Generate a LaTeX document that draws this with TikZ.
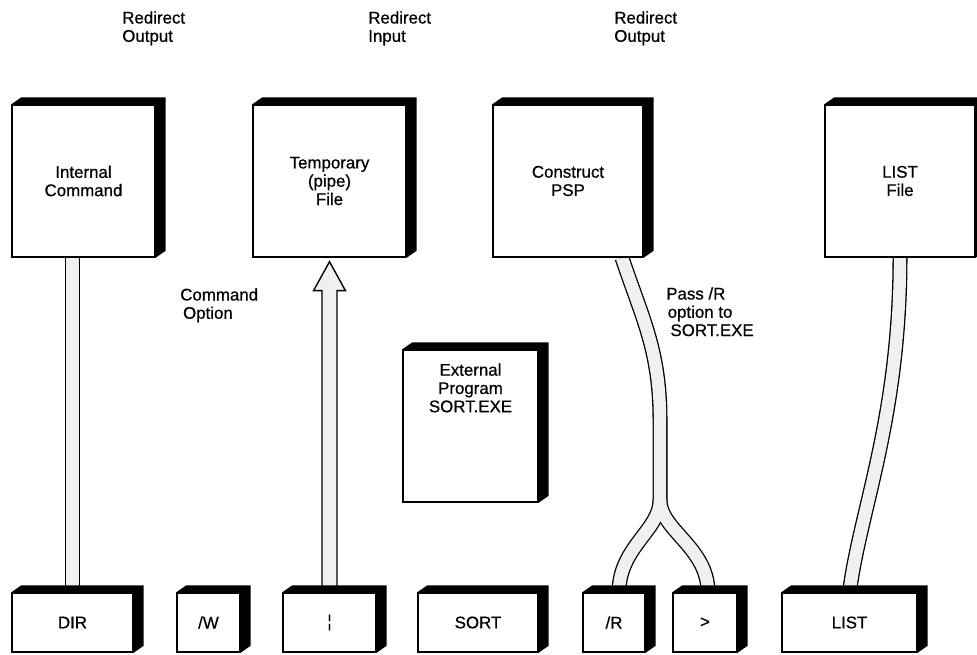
\documentclass[tikz,border=0pt]{standalone}
\usepackage{fontspec}
\setmainfont{Liberation Sans}[FakeBold=0.6]
\usetikzlibrary{calc,backgrounds}

\newcommand\solidface[1]{\fill (#1.north west) -- ++(10,-7) -- ($(#1.north east)+(10,-7)$) -- ($(#1.south east)+(10,-7)$) -- (#1.south east) -- (#1.north east) -- cycle;}

\begin{document}
\begin{tikzpicture}[x=0.025cm, y=-0.025cm, every node/.style={font=\fontsize{12}{13}\selectfont},
  box/.style 2 args={draw, line width=1pt, fill=white, align=center, inner sep=0pt, minimum width=#1*0.025 cm, minimum height=#2*0.025 cm},
  lab/.style={align=left, anchor=north west, inner sep=0pt},
  tubeout/.style={line width=0.375cm, black},
  tubein/.style={line width=0.31cm, gray!12}]
\useasboundingbox (0,0) rectangle (977,655);
\clip (0,0) rectangle (977,655);

\node (intc) [box={143}{152}] at (83.5,181) {Internal\\Command};
\node (tmpf) [box={153}{152}] at (329.5,181) {Temporary\\(pipe)\\File};
\node (psp) [box={150}{152}] at (568,181) {Construct\\PSP};
\node (lstf) [box={150}{152}] at (900,181) {LIST\\File};
\node (ext) [box={135}{152}] at (470.5,426) {External\\Program\\SORT.EXE\\[1.45cm]};

\node (dir) [box={121}{59}] at (72.5,622.5) {DIR};
\node (optw) [box={63}{59}] at (208.5,622.5) {/W};
\node (bar) [box={93}{59}] at (329.5,622.5) {¦};
\node (sort) [box={120}{59}] at (478,622.5) {SORT};
\node (optr) [box={62}{59}] at (614,622.5) {/R};
\node (gt) [box={64}{59}] at (705,622.5) {>};
\node (list) [box={135}{59}] at (849.5,622.5) {LIST};

\foreach \n in {intc,tmpf,psp,lstf,ext,dir,optw,bar,sort,optr,gt,list} {
  \solidface{\n}
}

\node (ro1) [lab] at (122,11) {Redirect\\Output};
\node (ri) [lab] at (368,11) {Redirect\\Input};
\node (ro2) [lab] at (614,11) {Redirect\\Output};
\node (cmdopt) [lab] at (180,288) {Command\\\hspace*{2pt}Option};
\node (pass) [lab] at (666,287) {Pass /R\\\hspace*{1pt}option to\\\hspace*{3pt}SORT.EXE};

\coordinate (fork) at (660,500);

\begin{scope}[on background layer]
\foreach \s in {tubeout,tubein} {
  \draw[\s] (intc.south -| dir.north) -- (dir.north);
  \draw[\s] ($(psp.south)+(54,0)$) .. controls +(20,60) and +(0,-70) .. ($(fork)+(0,-80)$) -- (fork);
  \draw[\s] (fork) .. controls +(0,30) and +(0,-45) .. ($(optr.north)+(5,0)$);
  \draw[\s] (fork) .. controls +(0,30) and +(0,-45) .. ($(gt.north)+(3,0)$);
  \draw[\s] (lstf.south) .. controls +(0,160) and +(10,-80) .. (list.north);
}
\draw[line width=1pt, fill=gray!12] ($(bar.north)+(-7.5,0)$) -- ($(tmpf.south)+(-7.5,33)$) -- ($(tmpf.south)+(-16,33)$) -- ($(tmpf.south)+(0,4)$) -- ($(tmpf.south)+(16,33)$) -- ($(tmpf.south)+(7.5,33)$) -- ($(bar.north)+(7.5,0)$);
\end{scope}
\end{tikzpicture}
\end{document}
